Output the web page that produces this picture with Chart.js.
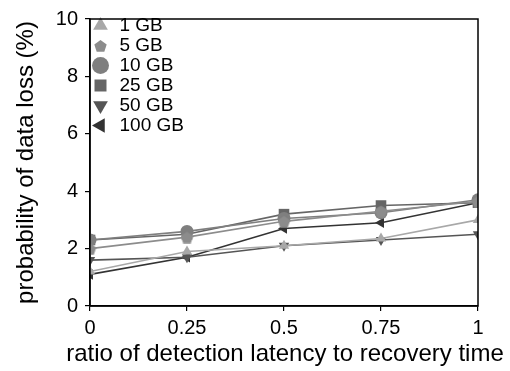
<!DOCTYPE html>
<html>
<head>
<meta charset="utf-8">
<script src="https://cdn.jsdelivr.net/npm/chart.js@4/dist/chart.umd.min.js"></script>
<style>
html,body{margin:0;padding:0;background:#fff;}
canvas{display:block;}
</style>
</head>
<body>
<canvas id="c" width="510" height="371"></canvas>
<script>
const ratios = [0, 0.25, 0.5, 0.75, 1];
const xTicks = [0, 0.25, 0.5, 0.75, 1];
const yTicks = [0, 2, 4, 6, 8, 10];
const seriesNames = ['1 GB', '5 GB', '10 GB', '25 GB', '50 GB', '100 GB'];
const gb1   = [1.2, 1.9, 2.1, 2.35, 3.0];
const gb5   = [2.0, 2.4, 2.95, 3.3, 3.65];
const gb10  = [2.3, 2.6, 3.05, 3.25, 3.7];
const gb25  = [2.3, 2.5, 3.2, 3.5, 3.6];
const gb50  = [1.6, 1.7, 2.1, 2.3, 2.5];
const gb100 = [1.1, 1.7, 2.7, 2.9, 3.6];

function pentagon(size, color) {
  const c = document.createElement('canvas');
  c.width = size; c.height = size;
  const g = c.getContext('2d');
  const r = size / 2;
  g.beginPath();
  for (let i = 0; i < 5; i++) {
    const a = -Math.PI / 2 + i * 2 * Math.PI / 5;
    const px = r + r * Math.cos(a), py = r + 1 + r * Math.sin(a);
    if (i === 0) g.moveTo(px, py); else g.lineTo(px, py);
  }
  g.closePath();
  g.fillStyle = color;
  g.fill();
  return c;
}

const colors = ['#a8a8a8', '#8c8c8c', '#7f7f7f', '#666666', '#555555', '#333333'];
const styles = ['triangle', pentagon(13, colors[1]), 'circle', 'rect', 'triangle', 'triangle'];
const rotations = [0, 0, 0, 0, 180, 270];
const radii = [6, 6, 6.5, 7.5, 6, 6];
const values = [gb1, gb5, gb10, gb25, gb50, gb100];

const datasets = values.map((v, i) => ({
  label: seriesNames[i],
  data: v.map((y, j) => ({x: ratios[j], y: y})),
  borderColor: colors[i],
  backgroundColor: colors[i],
  pointBackgroundColor: colors[i],
  pointBorderColor: colors[i],
  pointBorderWidth: 0,
  borderWidth: 1.6,
  pointStyle: styles[i],
  rotation: rotations[i],
  pointRadius: radii[i],
  pointHoverRadius: radii[i],
  tension: 0
}));

const boxPlugin = {
  id: 'box',
  afterLayout(chart) {
    if (chart.legend) {
      chart.legend.top += 15;
      chart.legend.bottom += 15;
    }
    if (chart.titleBlock) {
      chart.titleBlock.left = 62;
      chart.titleBlock.right = 508;
    }
  },
  afterDraw(chart) {
    const a = chart.chartArea, ctx = chart.ctx;
    ctx.save();
    ctx.strokeStyle = '#000';
    ctx.lineWidth = 1.5;
    ctx.strokeRect(a.left, a.top, a.right - a.left, a.bottom - a.top);
    ctx.restore();
  }
};

const fam = '"Liberation Sans", Arial, sans-serif';
const tickFont = {family: fam, size: 20};
const titleFont = {family: fam, size: 24, weight: 'normal'};
const legendFont = {family: fam, size: 19};

new Chart(document.getElementById('c'), {
  type: 'line',
  data: {datasets},
  plugins: [boxPlugin],
  options: {
    responsive: false,
    animation: false,
    devicePixelRatio: 1,
    layout: {padding: {top: 15, right: 32, left: 0, bottom: 0}},
    plugins: {
      tooltip: {enabled: false},
      title: {
        display: true,
        position: 'bottom',
        align: 'center',
        text: 'ratio of detection latency to recovery time',
        color: '#000',
        font: titleFont,
        padding: {top: 0, bottom: 2}
      },
      legend: {
        position: 'chartArea',
        align: 'start',
        labels: {
          usePointStyle: true,
          boxWidth: 20,
          boxHeight: 12,
          padding: 1,
          color: '#000',
          font: legendFont
        }
      }
    },
    scales: {
      x: {
        type: 'linear',
        min: 0, max: 1,
        afterBuildTicks: s => { s.ticks = xTicks.map(v => ({value: v})); },
        afterFit: s => { s.height = 34.2; },
        ticks: {color: '#000', font: tickFont, padding: 5, maxRotation: 0,
                callback: v => String(v)},
        grid: {drawOnChartArea: false, drawTicks: true, tickLength: 5, color: '#000', lineWidth: 1.2},
        border: {display: true, color: '#000', width: 1.5}
      },
      y: {
        type: 'linear',
        min: 0, max: 10,
        afterBuildTicks: s => { s.ticks = yTicks.map(v => ({value: v})); },
        afterFit: s => { s.width = 90; },
        ticks: {color: '#000', font: tickFont, padding: 7},
        grid: {drawOnChartArea: false, drawTicks: true, tickLength: 5, color: '#000', lineWidth: 1.2},
        border: {display: true, color: '#000', width: 1.5},
        title: {display: true, text: 'probability of data loss (%)', color: '#000', font: titleFont, padding: {top: 12, bottom: 12}}
      }
    }
  }
});
</script>
</body>
</html>
